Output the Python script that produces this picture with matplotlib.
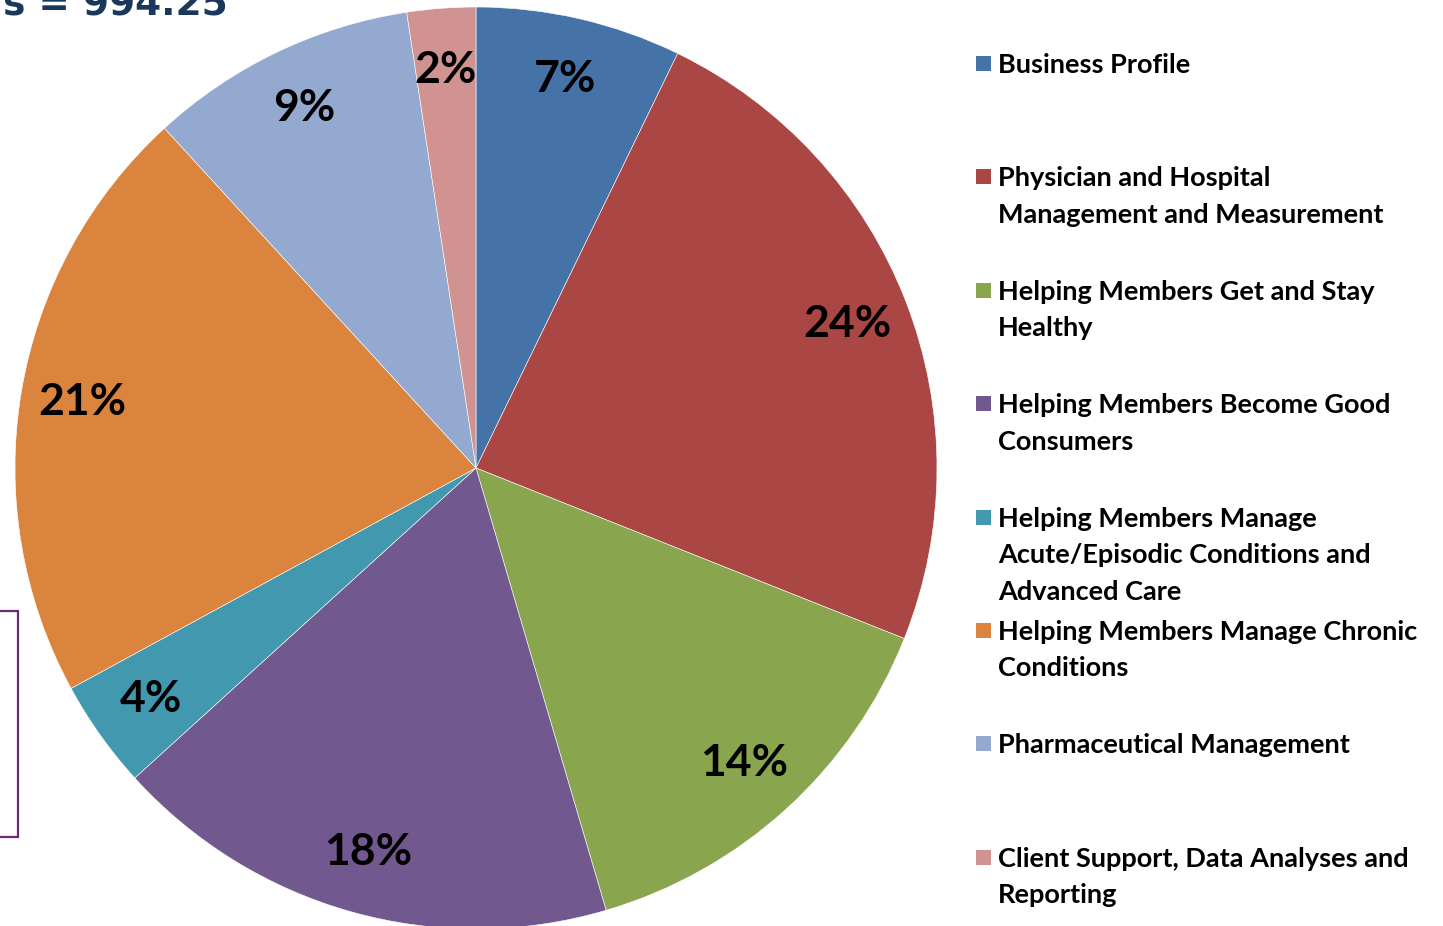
import numpy as np
import matplotlib
matplotlib.use("Agg")
import matplotlib.pyplot as plt
from matplotlib.patches import Rectangle

categories = [
    "Business Profile",
    "Physician and Hospital\nManagement and Measurement",
    "Helping Members Get and Stay\nHealthy",
    "Helping Members Become Good\nConsumers",
    "Helping Members Manage\nAcute/Episodic Conditions and\nAdvanced Care",
    "Helping Members Manage Chronic\nConditions",
    "Pharmaceutical Management",
    "Client Support, Data Analyses and\nReporting",
]
shares = [7.2, 23.8, 14.4, 17.8, 3.8, 21.1, 9.4, 2.4]
pct_labels = ["7%", "24%", "14%", "18%", "4%", "21%", "9%", "2%"]
colors = ["#4572A7", "#AA4643", "#89A54E", "#71588F",
          "#4198AF", "#DB843D", "#93A9CF", "#D19392"]

W, H = 1443, 926
fig = plt.figure(figsize=(W / 100, H / 100), dpi=100)
fig.patch.set_facecolor("white")

# pie: centre (476, 468) px, radius 461 px
cx, cy, r = 476, 468, 461
ax = fig.add_axes([(cx - r) / W, (H - cy - r) / H, 2 * r / W, 2 * r / H])
wedges, _ = ax.pie(shares, colors=colors, startangle=90, counterclock=False,
                   wedgeprops=dict(edgecolor="white", linewidth=0.4))
ax.set_xlim(-1, 1)
ax.set_ylim(-1, 1)
ax.axis("off")

for w, lab in zip(wedges, pct_labels):
    ang = np.deg2rad((w.theta1 + w.theta2) / 2)
    ax.text(0.865 * np.cos(ang), 0.865 * np.sin(ang), lab, ha="center", va="center",
            fontsize=32, fontweight="bold", family="Lato", color="black")

# legend, drawn by hand to keep the slide spacing
for i, (name, col) in enumerate(zip(categories, colors)):
    ytop = 63 + i * 113.4
    fig.patches.append(Rectangle((976 / W, 1 - (ytop + 8) / H), 15 / W, 15 / H,
                                 transform=fig.transFigure, facecolor=col,
                                 edgecolor="none"))
    for k, line in enumerate(name.split("\n")):
        fig.text(998 / W, 1 - (ytop + k * 36.5) / H, line, ha="left",
                 va="center_baseline", fontsize=19.5, fontweight="bold",
                 family="Lato", color="black")

# cut-off heading and box from the slide
fig.text(3 / W, 1 - 16 / H, "s = 994.25", ha="left", va="baseline",
         fontsize=27, fontweight="bold", color="#1A375C")
fig.patches.append(Rectangle((-10 / W, 1 - 837 / H), 28 / W, 226 / H,
                             transform=fig.transFigure, facecolor="none",
                             edgecolor="#6E2A73", linewidth=1.6))

fig.savefig("out.png", dpi=100)
